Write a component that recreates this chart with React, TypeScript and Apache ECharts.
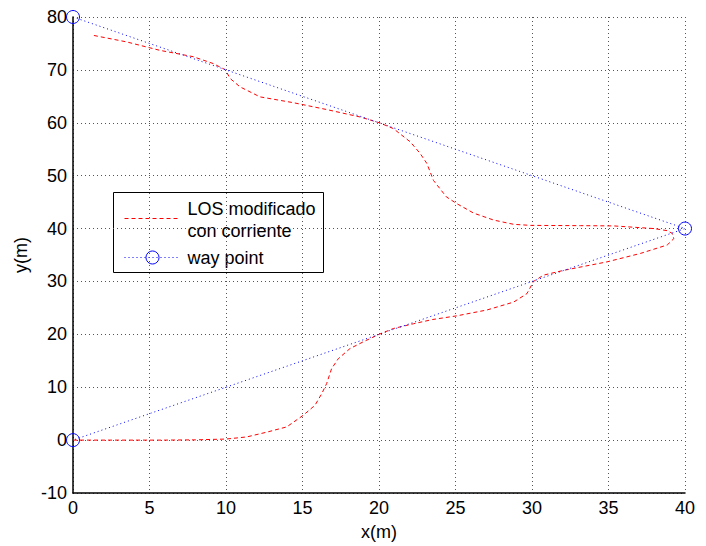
import React, { useEffect, useRef } from "react";
import * as echarts from "echarts";

const xTicks = { min: 0, max: 40, interval: 5 };
const yTicks = { min: -10, max: 80, interval: 10 };

const wayPoints: [number, number][] = [
  [0, 80],
  [40, 40],
  [0, 0],
];

const losPath: [number, number][] = [
  [0, 0], [3, 0], [6, 0], [8, 0.05], [10, 0.2], [11.35, 0.6], [12.66, 1.5],
  [13.97, 2.5], [15.05, 4.7], [15.82, 6.6], [16.26, 8.8], [16.58, 10.7],
  [16.9, 13.5], [17.34, 15.4], [18.1, 17.3], [18.98, 18.6], [20.0, 20.0],
  [20.94, 21.1], [22.25, 22.0], [23.5, 22.8], [25.09, 23.5], [27.05, 24.6],
  [28.8, 26.1], [29.67, 27.7], [30.1, 30.0], [30.76, 31.2], [32.07, 32.1],
  [34.9, 33.7], [37.09, 35.3], [38.84, 36.9], [39.27, 38.1], [39.16, 39.1],
  [38.84, 39.6], [37.96, 40.0], [35.35, 40.5], [33.16, 40.55], [29.9, 40.6],
  [28.8, 40.8], [27.5, 41.6], [26.2, 42.9], [25.09, 44.7], [24.4, 46.0],
  [23.56, 49.1], [23.13, 52.3], [22.69, 54.2], [22.04, 56.4], [20.94, 58.9],
  [20.03, 60.0], [18.76, 61.1], [16.58, 62.5], [14.4, 63.8], [12.22, 64.9],
  [10.91, 66.8], [10.26, 68.4], [9.97, 70.0], [9.16, 71.2], [7.85, 72.5],
  [5.67, 73.7], [3.49, 75.3], [1.2, 76.6],
];

const seriesNames = ["LOS modificado", "con corriente", "way point"];
const axisNames = { x: "x(m)", y: "y(m)" };

const FONT = "'Liberation Sans', Arial, Helvetica, sans-serif";

export default function App() {
  const ref = useRef<HTMLDivElement>(null);
  useEffect(() => {
    if (!ref.current) return;
    const chart = echarts.init(ref.current, null, { renderer: "svg" });
    const gridLine = { show: true, lineStyle: { color: "#555", type: [1, 3], width: 1 } };
    chart.setOption({
      animation: false,
      backgroundColor: "#fff",
      grid: { left: 73, right: 21, top: 17, bottom: 53, containLabel: false },
      xAxis: {
        type: "value",
        min: xTicks.min,
        max: xTicks.max,
        interval: xTicks.interval,
        name: axisNames.x,
        nameLocation: "middle",
        nameGap: 30,
        nameTextStyle: { fontFamily: FONT, fontSize: 18, color: "#000" },
        axisLine: { show: true, onZero: false, lineStyle: { color: "#000", width: 1.5 } },
        axisTick: { show: false },
        axisLabel: { fontFamily: FONT, fontSize: 18, color: "#000", margin: 6 },
        splitLine: gridLine,
      },
      yAxis: {
        type: "value",
        min: yTicks.min,
        max: yTicks.max,
        interval: yTicks.interval,
        name: axisNames.y,
        nameLocation: "middle",
        nameGap: 41,
        nameTextStyle: { fontFamily: FONT, fontSize: 18, color: "#000" },
        axisLine: { show: true, onZero: false, lineStyle: { color: "#000", width: 1.5 } },
        axisTick: { show: false },
        axisLabel: { fontFamily: FONT, fontSize: 18, color: "#000", margin: 6 },
        splitLine: gridLine,
      },
      series: [
        {
          type: "line",
          name: seriesNames[0],
          data: losPath,
          showSymbol: false,
          symbol: "none",
          lineStyle: { color: "#ff0000", width: 1, type: [4, 3] },
          z: 2,
        },
        {
          type: "line",
          name: seriesNames[2],
          data: wayPoints,
          symbol: "circle",
          symbolSize: 13,
          itemStyle: { color: "rgba(0,0,0,0)", borderColor: "#0000ff", borderWidth: 1 },
          lineStyle: { color: "#0000ff", width: 1, type: [1, 3] },
          z: 3,
        },
      ],
      graphic: [
        {
          type: "group",
          left: 113,
          top: 192,
          children: [
            {
              type: "rect",
              shape: { x: 0, y: 0, width: 210, height: 80 },
              style: { fill: "#fff", stroke: "#000", lineWidth: 1 },
            },
            {
              type: "line",
              shape: { x1: 11, y1: 26, x2: 67, y2: 26 },
              style: { stroke: "#ff0000", lineWidth: 1, lineDash: [4, 3] },
            },
            {
              type: "text",
              x: 74,
              y: 16,
              style: { text: seriesNames[0], font: `18px ${FONT}`, fill: "#000", verticalAlign: "middle" },
            },
            {
              type: "text",
              x: 74,
              y: 38,
              style: { text: seriesNames[1], font: `18px ${FONT}`, fill: "#000", verticalAlign: "middle" },
            },
            {
              type: "line",
              shape: { x1: 11, y1: 65, x2: 67, y2: 65 },
              style: { stroke: "#0000ff", lineWidth: 1, lineDash: [1, 3] },
            },
            {
              type: "circle",
              shape: { cx: 39, cy: 65, r: 6.5 },
              style: { fill: "none", stroke: "#0000ff", lineWidth: 1 },
            },
            {
              type: "text",
              x: 74,
              y: 65,
              style: { text: seriesNames[2], font: `18px ${FONT}`, fill: "#000", verticalAlign: "middle" },
            },
          ],
        },
      ],
    });
    return () => chart.dispose();
  }, []);
  return <div ref={ref} style={{ width: 706, height: 546, position: "absolute", left: 0, top: 0 }} />;
}
